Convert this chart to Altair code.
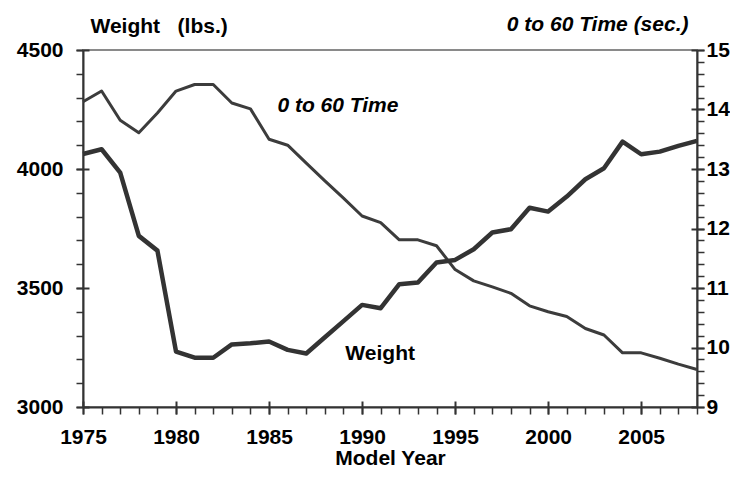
import altair as alt
import pandas as pd

# ---- data ----
years = list(range(1975, 2009))
weight_lbs = [4063, 4083, 3985, 3719, 3657, 3233, 3207, 3207, 3263, 3268,
              3275, 3240, 3225, 3293, 3361, 3429, 3415, 3516, 3523, 3607,
              3618, 3663, 3733, 3747, 3837, 3821, 3884, 3957, 4003, 4115,
              4062, 4073, 4097, 4118]
accel_sec = [14.13, 14.31, 13.82, 13.61, 13.94, 14.31, 14.42, 14.42, 14.11, 14.01,
             13.50, 13.40, 13.10, 12.80, 12.51, 12.21, 12.10, 11.81, 11.81, 11.71,
             11.31, 11.12, 11.02, 10.91, 10.70, 10.60, 10.52, 10.32, 10.21, 9.91,
             9.91, 9.82, 9.72, 9.63]

x_major = [1975, 1980, 1985, 1990, 1995, 2000, 2005]
x_minor = years
wt_major = [3000, 3500, 4000, 4500]
wt_minor = list(range(3000, 4501, 100))
tm_major = [9, 10, 11, 12, 13, 14, 15]
tm_minor = [9.0, 9.2, 9.4, 9.6, 9.8, 10.0, 10.2, 10.4, 10.6, 10.8, 11.0, 11.2,
            11.4, 11.6, 11.8, 12.0, 12.2, 12.4, 12.6, 12.8, 13.0, 13.2, 13.4,
            13.6, 13.8, 14.0, 14.2, 14.4, 14.6, 14.8, 15.0]

time_label = ["0 to 60 Time"]
time_label_year = [1985.45]
time_label_value = [13.96]
weight_label = ["Weight"]
weight_label_year = [1989.1]
weight_label_value = [3197]

df = pd.DataFrame({"year": years, "weight": weight_lbs, "time": accel_sec})
df_tl = pd.DataFrame({"year": time_label_year, "time": time_label_value, "t": time_label})
df_wl = pd.DataFrame({"year": weight_label_year, "weight": weight_label_value, "t": weight_label})

FONT = "Liberation Sans"
AX = "#333333"
XS = alt.Scale(domain=[1975, 2008], nice=False, zero=False)
YW = alt.Scale(domain=[3000, 4500], nice=False, zero=False)
YT = alt.Scale(domain=[9, 15], nice=False, zero=False)

lab = dict(labelFont=FONT, labelFontSize=21, labelFontWeight="bold", labelColor="black",
           tickColor=AX, domainColor=AX, grid=False, labelFlush=False, labelOverlap=False,
           ticks=True, tickOpacity=1)
tit = dict(titleFont=FONT, titleFontSize=21, titleFontWeight="bold", titleColor="black",
           titleBaseline="alphabetic", titleAngle=0)
bare = dict(labels=False, domain=False, grid=False, title=None, tickColor=AX, ticks=True,
            tickOpacity=1)

weight_line = alt.Chart(df).mark_line(color="#333333", strokeWidth=4.5, strokeJoin="round").encode(
    x=alt.X("year:Q", scale=XS, axis=alt.Axis(
        orient="bottom", values=x_major, format="d", tickSize=7, tickWidth=2,
        domainWidth=2, labelPadding=12, title="Model Year", titleX=307, titleY=57,
        titleAlign="center", **lab, **tit)),
    y=alt.Y("weight:Q", scale=YW, axis=alt.Axis(
        orient="left", values=wt_major, format="d", tickSize=7, tickWidth=2,
        domainWidth=2, labelPadding=13, title="Weight\u00a0\u00a0\u00a0(lbs.)",
        titleX=7, titleY=-18, titleAlign="left", **lab, **tit)),
)

time_line = alt.Chart(df).mark_line(color="#3c3c3c", strokeWidth=3, strokeJoin="round").encode(
    x=alt.X("year:Q", scale=XS, axis=None),
    y=alt.Y("time:Q", scale=YT, axis=alt.Axis(
        orient="right", values=tm_major, format="d", tickSize=7, tickWidth=2,
        domainWidth=2, labelPadding=2, title="0 to 60 Time (sec.)",
        titleX=-9, titleY=-20, titleAlign="right", titleFontStyle="italic", **lab, **tit)),
)

weight_minor = alt.Chart(df).mark_line(strokeOpacity=0).encode(
    x=alt.X("year:Q", scale=XS, axis=alt.Axis(orient="bottom", values=x_minor,
                                               tickSize=7, tickWidth=1.5, **bare)),
    y=alt.Y("weight:Q", scale=YW, axis=alt.Axis(orient="left", values=wt_minor,
                                                 tickSize=7, tickWidth=1.5, **bare)),
)

weight_inner = alt.Chart(df).mark_line(strokeOpacity=0).encode(
    x=alt.X("year:Q", scale=XS, axis=alt.Axis(orient="bottom", values=x_major, offset=-6,
                                               tickSize=6, tickWidth=2, **bare)),
    y=alt.Y("weight:Q", scale=YW, axis=alt.Axis(orient="left", values=wt_major, offset=-6,
                                                 tickSize=6, tickWidth=2, **bare)),
)

time_minor = alt.Chart(df).mark_line(strokeOpacity=0).encode(
    x=alt.X("year:Q", scale=XS, axis=None),
    y=alt.Y("time:Q", scale=YT, axis=alt.Axis(orient="right", values=tm_minor,
                                               tickSize=7, tickWidth=1.5, **bare)),
)

time_inner = alt.Chart(df).mark_line(strokeOpacity=0).encode(
    x=alt.X("year:Q", scale=XS, axis=None),
    y=alt.Y("time:Q", scale=YT, axis=alt.Axis(orient="right", values=tm_major, offset=-6,
                                               tickSize=6, tickWidth=2, **bare)),
)

time_text = alt.Chart(df_tl).mark_text(
    font=FONT, fontSize=21, fontWeight="bold", fontStyle="italic", color="black",
    align="left", baseline="alphabetic").encode(
    x=alt.X("year:Q", scale=XS, axis=None),
    y=alt.Y("time:Q", scale=YT, axis=None),
    text="t:N",
)

weight_text = alt.Chart(df_wl).mark_text(
    font=FONT, fontSize=21, fontWeight="bold", color="black",
    align="left", baseline="alphabetic").encode(
    x=alt.X("year:Q", scale=XS, axis=None),
    y=alt.Y("weight:Q", scale=YW, axis=None),
    text="t:N",
)

chart = alt.layer(
    weight_minor, weight_inner, time_minor, time_inner,
    time_line, weight_line, time_text, weight_text,
).resolve_scale(x="independent", y="independent").properties(
    width=614, height=357,
    padding={"left": 75, "top": 42, "right": 33, "bottom": 62},
    autosize=alt.AutoSizeParams(type="none"),
    background="white",
).configure_view(stroke="#8a8a8a", strokeWidth=2)

chart.save("out.html", embed_options={"renderer": "svg", "actions": False})
